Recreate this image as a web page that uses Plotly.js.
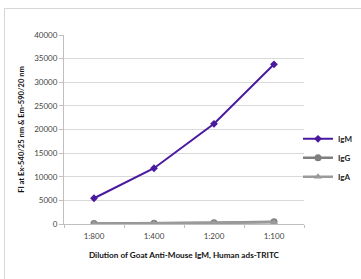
<!DOCTYPE html>
<html>
<head>
<meta charset="utf-8">
<script src="https://cdn.plot.ly/plotly-3.0.1.min.js"></script>
<style>
html,body{margin:0;padding:0;background:#fff;}
#frame{position:absolute;left:4px;top:8px;width:400px;height:300px;border-left:1px solid #d6d6d6;border-top:1px solid #d6d6d6;pointer-events:none;z-index:5;}
#chart{position:absolute;left:0;top:0;width:361px;height:279px;}
</style>
</head>
<body>
<div id="chart"></div>
<div id="frame"></div>
<script>
const categories = ["1:800", "1:400", "1:200", "1:100"];
const igM = [5450, 11800, 21200, 33800];
const igG = [100, 150, 250, 500];
const igA = [50, 100, 150, 350];
const yTicks = [0, 5000, 10000, 15000, 20000, 25000, 30000, 35000, 40000];

const font = "Lato, 'Open Sans', sans-serif";

const traces = [
  {x: categories, y: igM, name: "IgM", type: "scatter", mode: "lines+markers",
   line: {color: "#4a1a9e", width: 2}, marker: {symbol: "diamond", size: 6, color: "#4a1a9e"}},
  {x: categories, y: igG, name: "IgG", type: "scatter", mode: "lines+markers",
   line: {color: "#7f7f7f", width: 2.5}, marker: {symbol: "circle", size: 7, color: "#7f7f7f"}},
  {x: categories, y: igA, name: "IgA", type: "scatter", mode: "lines+markers",
   line: {color: "#9a9a9a", width: 2.5}, marker: {symbol: "triangle-up", size: 7, color: "#9a9a9a"}}
];

const layout = {
  width: 361, height: 279,
  margin: {l: 64, r: 57, t: 35, b: 55, autoexpand: false},
  paper_bgcolor: "#fff", plot_bgcolor: "#fff",
  font: {family: font, size: 8, color: "#333"},
  showlegend: true,
  legend: {x: 0.975, y: 0.35, xanchor: "left", yanchor: "middle",
           font: {family: font, size: 8, color: "#222", weight: "bold"},
           itemwidth: 30, tracegroupgap: 0, bgcolor: "rgba(0,0,0,0)"},
  xaxis: {
    type: "category", range: [-0.5, 3.5],
    showgrid: false, showline: true, linecolor: "#bfbfbf", linewidth: 1,
    ticks: "outside", ticklen: 3, tickcolor: "#bfbfbf", tickson: "boundaries",
    ticklabelstandoff: 4,
    tickfont: {family: font, size: 8, color: "#444"},
    title: {text: "Dilution of Goat Anti-Mouse IgM, Human ads-TRITC", standoff: 12,
            font: {family: font, size: 8.2, color: "#111", weight: "bold"}},
    zeroline: false
  },
  yaxis: {
    range: [0, 40000], tickvals: yTicks, ticktext: yTicks.map(String),
    showgrid: true, gridcolor: "#d9d9d9", gridwidth: 1,
    showline: true, linecolor: "#bfbfbf", ticks: "outside", ticklen: 4, tickcolor: "#bfbfbf",
    tickfont: {family: font, size: 8, color: "#444"},
    title: {text: "FI at Ex-540/25 nm & Em-590/20 nm", standoff: 8,
            font: {family: font, size: 7.6, color: "#111", weight: "bold"}},
    zeroline: false
  }
};

Plotly.newPlot("chart", traces, layout, {displayModeBar: false, staticPlot: true});
</script>
</body>
</html>
